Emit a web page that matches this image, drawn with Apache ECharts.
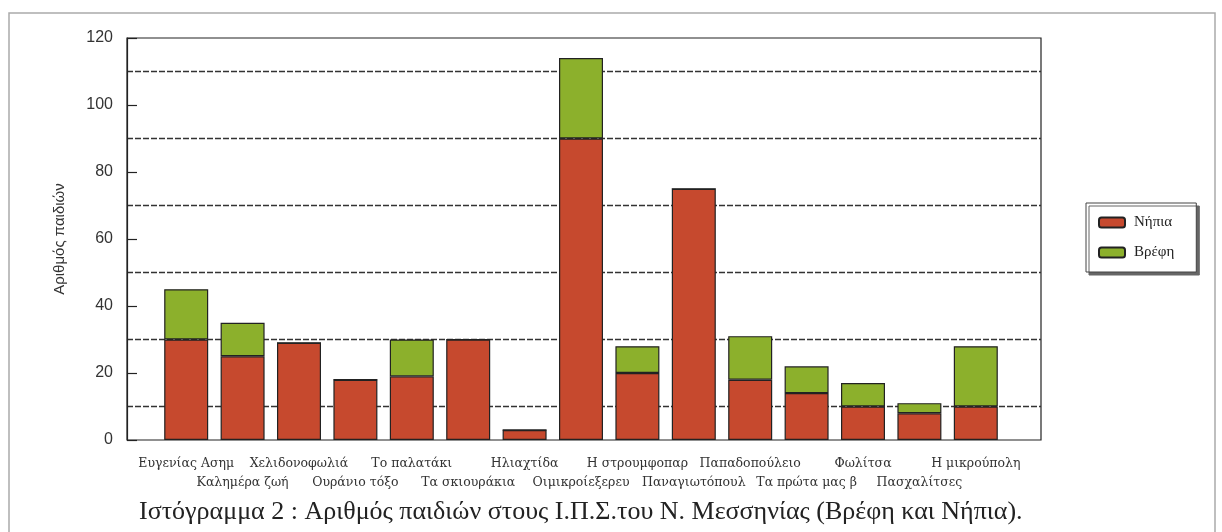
<!DOCTYPE html>
<html>
<head>
<meta charset="utf-8">
<script src="https://cdn.jsdelivr.net/npm/echarts@6/dist/echarts.min.js"></script>
<style>
html,body{margin:0;padding:0;background:#fff;}
#chart{width:1222px;height:532px;}
</style>
</head>
<body>
<div id="chart"></div>
<script>
const categories = ["Ευγενίας Ασημ","Καλημέρα ζωή","Χελιδονοφωλιά","Ουράνιο τόξο","Το παλατάκι","Τα σκιουράκια","Ηλιαχτίδα","Οιμικροίεξερευ","Η στρουμφοπαρ","Παναγιωτόπουλ","Παπαδοπούλειο","Τα πρώτα μας β","Φωλίτσα","Πασχαλίτσες","Η μικρούπολη"];
const nipia = [30,25,29,18,19,30,3,90,20,75,18,14,10,8,10];
const vrefi = [15,10,0,0,11,0,0,24,8,0,13,8,7,3,18];
const yTicks = [0,20,40,60,80,100,120];
const yTitle = "Αριθμός παιδιών";
const caption = "Ιστόγραμμα 2 : Αριθμός παιδιών στους Ι.Π.Σ.του Ν. Μεσσηνίας (Βρέφη και Νήπια).";

const chart = echarts.init(document.getElementById('chart'), null, {renderer:'canvas'});
const TOP = 38, BOTTOM = 532-440;
const option = {
  backgroundColor:'#fff',
  animation:false,
  title:{
    text: caption,
    left: 134, top: 494,
    textStyle:{fontFamily:'Liberation Serif', fontSize:26, fontWeight:'normal', color:'#222'}
  },
  legend:{
    orient:'vertical',
    left: 1086, top: 203,
    width: 108,
    padding:[12,22,12,12],
    itemGap: 15,
    itemWidth: 26, itemHeight: 10,
    backgroundColor:'#fff',
    borderColor:'#444', borderWidth:1,
    shadowColor:'#666', shadowBlur:0, shadowOffsetX:3, shadowOffsetY:3,
    textStyle:{fontFamily:'Liberation Serif', fontSize:15, color:'#222', padding:[0,0,0,4]},
    data:['Νήπια','Βρέφη']
  },
  graphic:[{
    type:'rect', shape:{x:9, y:13, width:1206, height:530},
    style:{fill:'none', stroke:'#aaa', lineWidth:1.5}, silent:true, z:-1
  }],
  grid:[
    {left:127, right:1222-1041, top:TOP, bottom:BOTTOM, show:true, borderColor:'#222', borderWidth:1.2, containLabel:false},
    {left:158, right:1222-1004, top:TOP, bottom:BOTTOM, containLabel:false}
  ],
  xAxis:[
    {type:'value', gridIndex:0, min:0, max:1, show:false},
    {type:'category', gridIndex:1, data:categories,
      axisLine:{show:false}, axisTick:{show:false},
      axisLabel:{interval:0, margin:14, fontFamily:'DejaVu Serif', fontSize:12.5, color:'#333', lineHeight:19,
        formatter:function(v, i){ return i % 2 ? '\n' + v : v; }}
    }
  ],
  yAxis:[
    {type:'value', gridIndex:0, min:yTicks[0], max:yTicks[yTicks.length-1], interval:20,
      name: yTitle, nameLocation:'middle', nameGap:60,
      nameTextStyle:{fontFamily:'Liberation Sans', fontSize:15, color:'#333'},
      axisLine:{show:true, lineStyle:{color:'#222', width:1.2}},
      axisTick:{show:true, inside:true, length:10, lineStyle:{color:'#222', width:1.2}},
      axisLabel:{margin:14, fontFamily:'Liberation Sans', fontSize:16, color:'#333'},
      splitLine:{show:false},
      minorTick:{show:false, splitNumber:2},
      minorSplitLine:{show:true, lineStyle:{color:'#333', width:1.3, type:[6,2]}}
    },
    {type:'value', gridIndex:1, min:yTicks[0], max:yTicks[yTicks.length-1], interval:20, show:false, splitLine:{show:false}}
  ],
  series:[
    {name:'Νήπια', type:'bar', stack:'a', xAxisIndex:1, yAxisIndex:1, data:nipia, barWidth:44,
      itemStyle:{color:'#c6492e', borderColor:'#222', borderWidth:1.2}},
    {name:'Βρέφη', type:'bar', stack:'a', xAxisIndex:1, yAxisIndex:1, data:vrefi, barWidth:44,
      itemStyle:{color:'#8cb02c', borderColor:'#222', borderWidth:1.2}}
  ]
};
chart.setOption(option);
</script>
</body>
</html>
